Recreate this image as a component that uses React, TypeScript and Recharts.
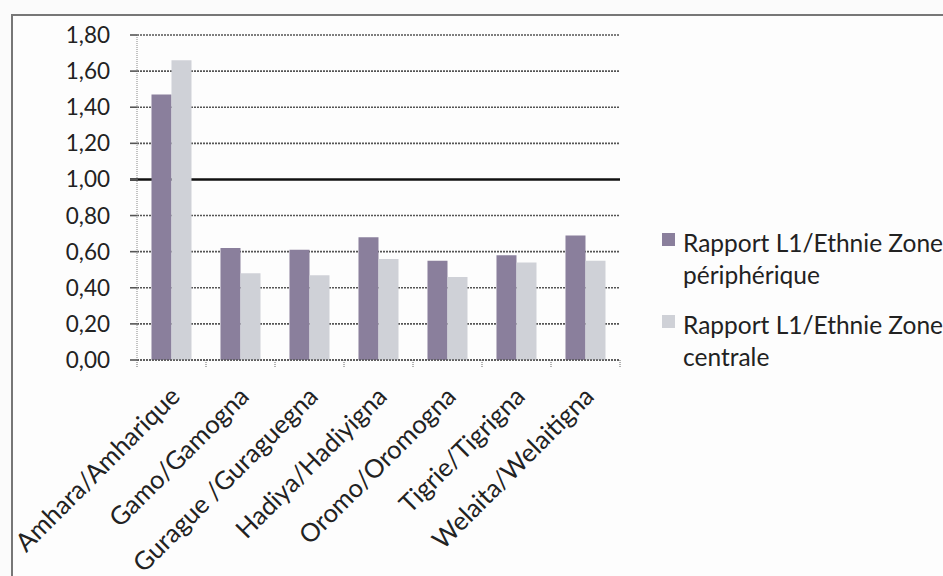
import React from 'react';
import { BarChart, Bar, XAxis, YAxis, CartesianGrid, Legend } from 'recharts';

const categories = [
  'Amhara/Amharique',
  'Gamo/Gamogna',
  'Gurague /Guraguegna',
  'Hadiya/Hadiyigna',
  'Oromo/Oromogna',
  'Tigrie/Tigrigna',
  'Welaita/Welaitigna',
];
const peripherique = [1.47, 0.62, 0.61, 0.68, 0.55, 0.58, 0.69];
const centrale = [1.66, 0.48, 0.47, 0.56, 0.46, 0.54, 0.55];
const yTicks = [0, 0.2, 0.4, 0.6, 0.8, 1, 1.2, 1.4, 1.6, 1.8];
const seriesNames = ['Rapport L1/Ethnie Zone périphérique', 'Rapport L1/Ethnie Zone centrale'];
const seriesColors = ['#8a7f9c', '#cfd1d7'];

const data = categories.map((name, i) => ({ name, peri: peripherique[i], centrale: centrale[i] }));

const FONT = 'Lato, "Open Sans", sans-serif';
const fmt = (v: number) => v.toFixed(2).replace('.', ',');

// grid: dotted grey lines, the 1,00 line solid black
const GridLine = (props: any) => {
  const { x1, x2, y1, y2, index } = props;
  if (yTicks[index] === 1) {
    return <line key={`g-${index}`} x1={x1 - 7} x2={x2} y1={y1} y2={y2} stroke="#111" strokeWidth={2.5} />;
  }
  return (
    <line key={`g-${index}`} x1={x1} x2={x2} y1={y1} y2={y2} stroke="#555" strokeWidth={1.6} strokeDasharray="2 1" />
  );
};

const XTick = (props: any) => {
  const { x, y, payload, index } = props;
  const off = payload?.offset ?? 34.5;
  const tx = x + 10;
  const ty = y + 38;
  return (
    <g>
      <line x1={x - off} y1={y} x2={x - off} y2={y + 7} stroke="#666" strokeDasharray="1 1" />
      {index === categories.length - 1 && (
        <line x1={x + off} y1={y} x2={x + off} y2={y + 7} stroke="#666" strokeDasharray="1 1" />
      )}
      <text
        x={tx}
        y={ty}
        transform={`rotate(-45, ${tx}, ${ty})`}
        textAnchor="end"
        fill="#222"
        fontSize={25.5}
        fontFamily={FONT}
      >
        {payload.value}
      </text>
    </g>
  );
};

const LegendContent = () => (
  <div style={{ fontFamily: FONT, fontSize: 24.5, color: '#222', width: 292, textAlign: 'left' }}>
    {seriesNames.map((n, i) => (
      <div key={n} style={{ display: 'flex', alignItems: 'flex-start', marginBottom: 18 }}>
        <span
          style={{ width: 13, height: 13, background: seriesColors[i], marginTop: 6, marginRight: 8, flexShrink: 0 }}
        />
        <span style={{ lineHeight: '32px' }}>{n}</span>
      </div>
    ))}
  </div>
);

export default function App() {
  return (
    <div style={{ position: 'fixed', left: 0, top: 0, width: 943, height: 576, background: '#fbfbfb', overflow: 'hidden' }}>
      <div
        style={{
          position: 'absolute',
          left: 11,
          top: 14,
          width: 940,
          height: 570,
          border: '2px solid #777',
          background: '#fdfdfd',
        }}
      />
      <div style={{ position: 'absolute', left: 0, top: 0 }}>
        <BarChart
          width={943}
          height={576}
          data={data}
          margin={{ top: 35, right: 323, left: 0, bottom: 20 }}
          barCategoryGap="21%"
          barGap={0}
        >
          <CartesianGrid vertical={false} horizontal={GridLine} />
          <XAxis
            dataKey="name"
            interval={0}
            height={196}
            tickSize={0}
            tickMargin={0}
            tick={<XTick />}
            axisLine={{ stroke: '#555', strokeWidth: 1.6, strokeDasharray: '2 1' }}
          />
          <YAxis
            width={137}
            domain={[0, 1.8]}
            ticks={yTicks}
            tickFormatter={fmt}
            tickSize={7}
            tickMargin={20}
            tickLine={{ stroke: '#555', strokeWidth: 1.6 }}
            axisLine={{ stroke: '#888', strokeDasharray: '1 1' }}
            tick={{ fill: '#222', fontSize: 22.5, fontFamily: FONT }}
          />
          <Legend
            layout="horizontal"
            align="center"
            verticalAlign="middle"
            content={<LegendContent />}
            wrapperStyle={{ position: 'absolute', left: 662, top: 227, width: 292 }}
          />
          <Bar dataKey="peri" name={seriesNames[0]} fill={seriesColors[0]} isAnimationActive={false} />
          <Bar dataKey="centrale" name={seriesNames[1]} fill={seriesColors[1]} isAnimationActive={false} />
        </BarChart>
      </div>
    </div>
  );
}
